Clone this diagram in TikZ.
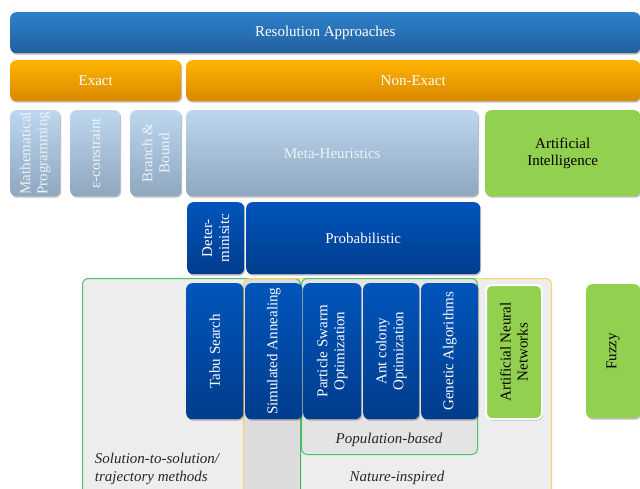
\documentclass[tikz,border=0pt]{standalone}
\usepackage{fontspec}
\setmainfont{Liberation Serif}
\usetikzlibrary{shadows}
\definecolor{barTop}{HTML}{2F80CA}
\definecolor{barBot}{HTML}{21609E}
\definecolor{orTop}{HTML}{FFB300}
\definecolor{orBot}{HTML}{D88900}
\definecolor{lbTop}{HTML}{BDD7EE}
\definecolor{lbBot}{HTML}{8FA6BF}
\definecolor{dbTop}{HTML}{0055BB}
\definecolor{dbBot}{HTML}{003C8C}
\definecolor{grn}{HTML}{92D050}
\definecolor{regGreen}{HTML}{4CC46E}
\definecolor{regOrange}{HTML}{FFD060}
\definecolor{lbText}{HTML}{EEF3F8}
\newcommand{\bx}[7]{\node[#2, minimum width=#5pt-#3pt, minimum height=#6pt-#4pt, anchor=north west] (#1) at (#3,#4) {#7};}
\tikzset{
  box/.style={rounded corners=6pt, inner sep=2pt, align=center,
    font=\fontsize{15}{17}\selectfont,
    drop shadow={shadow xshift=1pt, shadow yshift=-1.5pt, opacity=0.25, fill=black}},
  bluebar/.style={box, top color=barTop, bottom color=barBot, text=white},
  orbar/.style={box, top color=orTop, bottom color=orBot, text=white},
  lightbox/.style={box, top color=lbTop, bottom color=lbBot, text=lbText},
  darkbox/.style={box, top color=dbTop, bottom color=dbBot, text=white},
  greenbox/.style={box, fill=grn, text=black},
  rtext/.style={rotate=90, inner sep=0pt, align=center, font=\fontsize{15}{17}\selectfont},
  region/.style={rounded corners=6pt, fill=black, fill opacity=0.07, line width=1pt, inner sep=0pt},
  itlabel/.style={inner sep=0pt, text=black!85, font=\fontsize{15}{18}\selectfont\itshape}
}
\begin{document}
\begin{tikzpicture}[x=1pt,y=-1pt]
\useasboundingbox (0,0) rectangle (640,489);
\clip (0,0) rectangle (640,489);
% regions
\bx{solreg}{region, draw=regGreen}{82}{278}{300}{505}{}
\bx{natreg}{region, draw=regOrange}{243}{278}{551}{505}{}
\bx{popreg}{region, draw=regGreen, fill opacity=0.04}{301}{278}{477}{454}{}
% top rows
\bx{res}{bluebar}{10}{12}{640}{53}{Resolution Approaches}
\bx{exact}{orbar}{10}{60}{181}{101}{Exact}
\bx{nonexact}{orbar}{186}{60}{640}{101}{Non-Exact}
% third row
\bx{math}{lightbox}{10}{110}{60}{196}{}
\node[rtext, text=lbText] (mathT) at (math.center) {Mathematical\\Programming};
\bx{eps}{lightbox}{70}{110}{120}{196}{}
\node[rtext, text=lbText] (epsT) at (eps.center) {ε-constraint};
\bx{bb}{lightbox}{130}{110}{181}{196}{}
\node[rtext, text=lbText] (bbT) at (bb.center) {Branch \&\\Bound};
\bx{meta}{lightbox}{186}{110}{478}{196}{Meta-Heuristics}
\bx{ai}{greenbox}{485}{110}{640}{196}{Artificial\\Intelligence}
% fourth row
\bx{det}{darkbox}{187}{202}{244}{274}{}
\node[rtext, text=white] (detT) at (det.center) {Deter-\\minisitc};
\bx{prob}{darkbox}{246}{202}{480}{274}{Probabilistic}
% methods
\bx{tabu}{darkbox}{186}{283}{243}{419}{}
\node[rtext, text=white] (tabuT) at (tabu.center) {Tabu Search};
\bx{sa}{darkbox}{245}{283}{302}{419}{}
\node[rtext, text=white] (saT) at (sa.center) {Simulated Annealing};
\bx{pso}{darkbox}{303}{283}{361}{419}{}
\node[rtext, text=white] (psoT) at (pso.center) {Particle Swarm\\Optimization};
\bx{aco}{darkbox}{363}{283}{419}{419}{}
\node[rtext, text=white] (acoT) at (aco.center) {Ant colony\\Optimization};
\bx{ga}{darkbox}{421}{283}{478}{419}{}
\node[rtext, text=white] (gaT) at (ga.center) {Genetic Algorithms};
\bx{ann}{greenbox, draw=white, line width=2pt}{485}{284}{541}{418}{}
\node[rtext, text=black] (annT) at (ann.center) {Artificial Neural\\Networks};
\bx{fuzzy}{greenbox}{586}{284}{640}{418}{}
\node[rtext, text=black] (fuzzyT) at (fuzzy.center) {Fuzzy};
% region labels
\node[itlabel] (popL) at (389,440) {Population-based};
\node[itlabel] (natL) at (397,478) {Nature-inspired};
\node[itlabel, align=left] (solL) at (157,469) {Solution-to-solution/\\trajectory methods};
\end{tikzpicture}
\end{document}
